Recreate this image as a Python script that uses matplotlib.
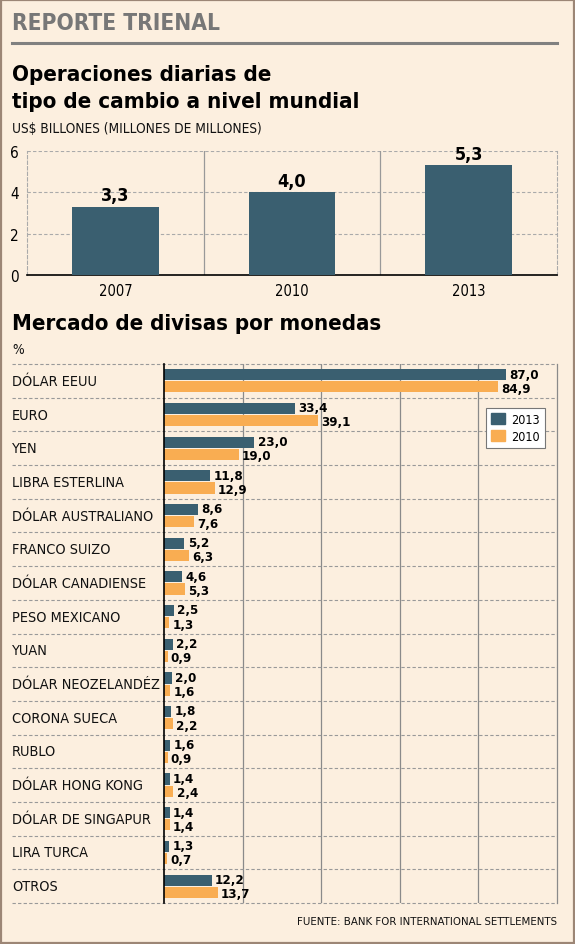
import matplotlib
matplotlib.use("Agg")
import matplotlib.pyplot as plt
import matplotlib.transforms as mtransforms
from matplotlib.patches import Rectangle, Patch
import numpy as np

# ---------------- data ----------------
years = ["2007", "2010", "2013"]
daily_volume = [3.3, 4.0, 5.3]
top_yticks = [0, 2, 4, 6]

currencies = ["DÓLAR EEUU", "EURO", "YEN", "LIBRA ESTERLINA", "DÓLAR AUSTRALIANO",
              "FRANCO SUIZO", "DÓLAR CANADIENSE", "PESO MEXICANO", "YUAN",
              "DÓLAR NEOZELANDÉZ", "CORONA SUECA", "RUBLO", "DÓLAR HONG KONG",
              "DÓLAR DE SINGAPUR", "LIRA TURCA", "OTROS"]
share_2013 = [87.0, 33.4, 23.0, 11.8, 8.6, 5.2, 4.6, 2.5, 2.2, 2.0, 1.8, 1.6, 1.4, 1.4, 1.3, 12.2]
share_2010 = [84.9, 39.1, 19.0, 12.9, 7.6, 6.3, 5.3, 1.3, 0.9, 1.6, 2.2, 0.9, 2.4, 1.4, 0.7, 13.7]
series_labels = ["2013", "2010"]

# ---------------- style ----------------
BG = "#fcefdf"
BLUE = "#3a5f70"
ORANGE = "#f9ad52"
GRID = "#8a8a8a"
plt.rcParams["font.family"] = ["DejaVu Sans"]
plt.rcParams["font.stretch"] = "condensed"

W, H = 575, 945
fig = plt.figure(figsize=(W / 100, H / 100), dpi=100, facecolor=BG)

def fx(px):
    return px / W

def fy(py):
    return 1 - py / H

# outer border
fig.patches.append(Rectangle((0.001, 0.001), 0.998, 0.998, transform=fig.transFigure,
                             fill=False, edgecolor="#9c8676", linewidth=1.6))

# header
fig.text(fx(12), fy(23), "REPORTE TRIENAL", fontsize=16.3, fontweight="bold",
         color="#777777", va="center", ha="left")
fig.add_artist(plt.Line2D([fx(12), fx(557)], [fy(44), fy(44)], color="#808080", linewidth=2.2))

fig.text(fx(12), fy(75), "Operaciones diarias de", fontsize=16, fontweight="bold",
         color="black", va="center", ha="left")
fig.text(fx(12), fy(102), "tipo de cambio a nivel mundial", fontsize=16, fontweight="bold",
         color="black", va="center", ha="left")
fig.text(fx(12), fy(129), "US$ BILLONES (MILLONES DE MILLONES)", fontsize=9.8,
         color="#111111", va="center", ha="left")

# ---------------- top chart ----------------
ax1 = fig.add_axes([fx(27), fy(276), fx(557) - fx(27), fy(152) - fy(276)])
ax1.set_facecolor(BG)
x = np.arange(len(years))
ax1.bar(x, daily_volume, width=0.49, color=BLUE, zorder=3)
ax1.set_xlim(-0.5, len(years) - 0.5)
ax1.set_ylim(0, 6)
ax1.set_yticks(top_yticks)
ax1.set_yticklabels([str(t) for t in top_yticks], fontsize=11)
ax1.set_xticks(x)
ax1.set_xticklabels(years, fontsize=10.5)
ax1.tick_params(axis="both", length=0, pad=6)
for t in top_yticks[1:]:
    ax1.axhline(t, color="#aaaaaa", linewidth=0.8, linestyle=(0, (3, 2)), zorder=1)
for xv in x[:-1] + 0.5:
    ax1.axvline(xv, color="#999999", linewidth=0.9, zorder=1)
for sp in ["right", "left"]:
    ax1.spines[sp].set_color("#aaaaaa")
    ax1.spines[sp].set_linestyle((0, (3, 2)))
    ax1.spines[sp].set_linewidth(0.8)
ax1.spines["top"].set_visible(False)
ax1.spines["bottom"].set_color("black")
ax1.spines["bottom"].set_linewidth(1.2)
for xi, v in zip(x, daily_volume):
    ax1.text(xi, v + 0.12, f"{v:.1f}".replace(".", ","), ha="center", va="bottom",
             fontsize=13, fontweight="bold", zorder=4)

# ---------------- bottom chart ----------------
fig.text(fx(12), fy(324), "Mercado de divisas por monedas", fontsize=15.9, fontweight="bold",
         color="black", va="center", ha="left")
fig.text(fx(12), fy(350), "%", fontsize=9.8, color="#111111", va="center", ha="left")

ax2 = fig.add_axes([fx(164), fy(904), fx(557) - fx(164), fy(365) - fy(904)])
ax2.set_facecolor(BG)
n = len(currencies)
y = np.arange(n)
off = 0.18
hgt = 0.33
ax2.barh(y - off, share_2013, height=hgt, color=BLUE, zorder=3, label=series_labels[0])
ax2.barh(y + off, share_2010, height=hgt, color=ORANGE, zorder=3, label=series_labels[1])
ax2.set_xlim(0, 100)
ax2.set_ylim(n - 0.5, -0.5)
ax2.set_xticks([])
ax2.set_yticks([])
for sp in ["top", "bottom"]:
    ax2.spines[sp].set_visible(False)
ax2.spines["left"].set_color("black")
ax2.spines["left"].set_linewidth(1.2)
ax2.spines["left"].set_zorder(5)
ax2.spines["right"].set_color(GRID)
ax2.spines["right"].set_linewidth(0.9)
for gx in [20, 40, 60, 80]:
    ax2.axvline(gx, color=GRID, linewidth=0.9, zorder=1)

# row separators extending into label area
trans = mtransforms.blended_transform_factory(ax2.transAxes, ax2.transData)
x_left = (12 - 164) / (557 - 164)
for b in np.arange(-0.5, n, 1.0):
    ax2.plot([x_left, 1], [b, b], transform=trans, color="#999999", linewidth=0.8,
             linestyle=(0, (3, 2)), clip_on=False, zorder=2)

for yi, name in zip(y, currencies):
    ax2.text(x_left, yi, name, transform=trans, ha="left", va="center", fontsize=10.4,
             color="#111111")

for yi, a, b in zip(y, share_2013, share_2010):
    ax2.text(a + 0.8, yi - off - 0.02, f"{a:.1f}".replace(".", ","), ha="left", va="center",
             fontsize=9.5, fontweight="bold", zorder=4)
    ax2.text(b + 0.8, yi + off + 0.04, f"{b:.1f}".replace(".", ","), ha="left", va="center",
             fontsize=9.5, fontweight="bold", zorder=4)

leg = ax2.legend(handles=[Patch(color=BLUE, label=series_labels[0]),
                          Patch(color=ORANGE, label=series_labels[1])],
                 loc="upper right", bbox_to_anchor=(0.985, 0.93), fontsize=9,
                 frameon=True, fancybox=False, edgecolor="#777777", framealpha=1,
                 handlelength=1.1, handleheight=0.9, borderpad=0.4, labelspacing=0.3,
                 handletextpad=0.5)
leg.get_frame().set_linewidth(0.8)
leg.set_zorder(6)

fig.text(fx(557), fy(922), "FUENTE: BANK FOR INTERNATIONAL SETTLEMENTS", fontsize=8.2,
         color="#111111", va="center", ha="right")

fig.savefig("out.png", dpi=100, facecolor=BG)
